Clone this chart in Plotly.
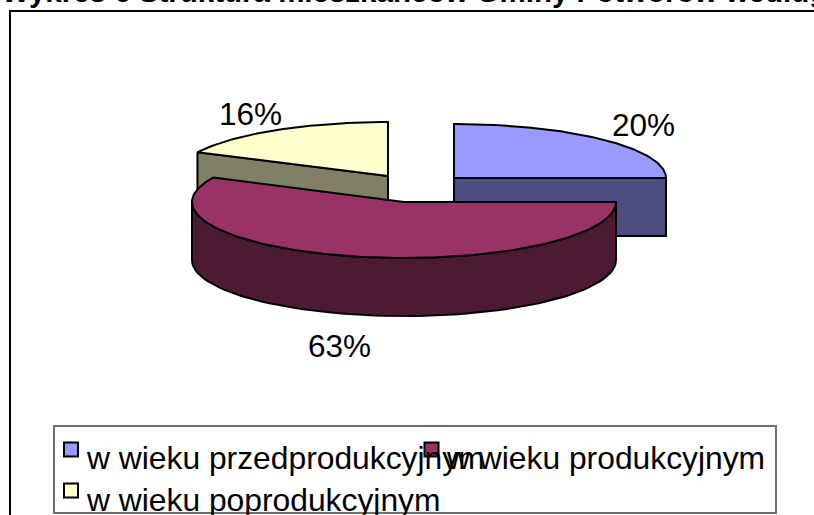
import numpy as np
import plotly.graph_objects as go

# --- data ---
CATEGORIES = ["w wieku przedprodukcyjnym", "w wieku produkcyjnym", "w wieku poprodukcyjnym"]
VALUES = [20, 63, 16]
TITLE = "Wykres 6 Struktura mieszkańców Gminy Potworów według wieku"

# --- style ---
TOP_COLORS = ["#9999FF", "#993366", "#FFFFCC"]
WALL_COLORS = ["#4D4D80", "#4D1A33", "#808066"]
# the source's 3-D projection widens/narrows the drawn sweep of each slice
SWEEP_SCALE = [1.2375, 0.8992, 1.100]
CENTERS = [(454, 178), (404, 202), (388, 176)]
RY = [54, 56, 54]
RX = 212
DEPTH = 58
LABEL_POS = [(643.5, 125), (339.5, 346), (250, 114)]
SWATCH_POS = [(71, 449.5), (431.5, 449.5), (71, 490.5)]
LEGEND_TEXT_POS = [(84, 458), (444, 458), (84, 500)]
FONT = "Liberation Sans, Arial, sans-serif"
LABEL_SIZE = 31.5
LEGEND_SIZE = 31.8
TITLE_SIZE = 29.5

total = sum(VALUES)
sweeps = [v / total * 360 * s for v, s in zip(VALUES, SWEEP_SCALE)]
starts = np.concatenate([[0], np.cumsum(sweeps)[:-1]])


def arc(i, a0, a1, n=80, dy=0):
    t = np.radians(np.linspace(a0, a1, n))
    cx, cy = CENTERS[i]
    return cx + RX * np.sin(t), cy - RY[i] * np.cos(t) + dy


def poly(x, y, fill):
    return go.Scatter(
        x=list(x), y=list(y), mode="lines", fill="toself", fillcolor=fill,
        line=dict(color="black", width=2), hoverinfo="skip", showlegend=False,
    )


def wall(i):
    s, e = starts[i], starts[i] + sweeps[i]
    if i == 1:  # round front wall
        a0, a1 = max(s, 90), min(e, 270)
        xt, yt = arc(i, a0, a1)
        xb, yb = arc(i, a1, a0, dy=DEPTH)
    else:  # flat cut face: from the outer end of the slice to its apex
        xo, yo = arc(i, e if i == 0 else s, e if i == 0 else s, n=1)
        cx, cy = CENTERS[i]
        xt, yt = np.array([xo[0], cx]), np.array([yo[0], cy])
        xb, yb = xt[::-1], yt[::-1] + DEPTH
    return poly(np.r_[xt, xb, xt[0]], np.r_[yt, yb, yt[0]], WALL_COLORS[i])


def top(i):
    s, e = starts[i], starts[i] + sweeps[i]
    x, y = arc(i, s, e, n=120)
    cx, cy = CENTERS[i]
    return poly(np.r_[cx, x, cx], np.r_[cy, y, cy], TOP_COLORS[i])


fig = go.Figure()
for i in [2, 0, 1]:
    fig.add_trace(wall(i))
    fig.add_trace(top(i))

# legend swatches
fig.add_trace(go.Scatter(
    x=[p[0] for p in SWATCH_POS], y=[p[1] for p in SWATCH_POS], mode="markers",
    marker=dict(symbol="square", size=14, color=TOP_COLORS, line=dict(color="black", width=2)),
    hoverinfo="skip", showlegend=False,
))

ann = []
for v, (x, y) in zip(VALUES, LABEL_POS):
    ann.append(dict(x=x, y=y, xref="x", yref="y", text=f"{v}%", showarrow=False,
                    font=dict(family=FONT, size=LABEL_SIZE, color="black"),
                    xanchor="center", yanchor="middle"))
for c, (x, y) in zip(CATEGORIES, LEGEND_TEXT_POS):
    ann.append(dict(x=x, y=y, xref="x", yref="y", text=c, showarrow=False,
                    font=dict(family=FONT, size=LEGEND_SIZE, color="black"),
                    xanchor="left", yanchor="middle"))

shapes = [
    dict(type="rect", x0=10, x1=830, y0=11, y1=530, line=dict(color="black", width=2), layer="below"),
    dict(type="rect", x0=54, x1=776, y0=426, y1=513, line=dict(color="#707070", width=2),
         fillcolor="white", layer="below"),
]

fig.update_layout(
    width=814, height=515,
    margin=dict(l=0, r=0, t=0, b=0),
    paper_bgcolor="white", plot_bgcolor="white",
    title=dict(text=f"<b>{TITLE}</b>", font=dict(family=FONT, size=TITLE_SIZE, color="black"),
               x=0.5645, xanchor="center", y=1.0 - 1.5 / 515, yanchor="bottom", yref="container"),
    xaxis=dict(range=[0, 814], visible=False, fixedrange=True),
    yaxis=dict(range=[515, 0], visible=False, fixedrange=True),
    annotations=ann, shapes=shapes, showlegend=False,
)
fig.write_html("out.html", config=dict(displayModeBar=False),
               post_script="document.body.style.margin='0';document.body.style.overflow='hidden';")
